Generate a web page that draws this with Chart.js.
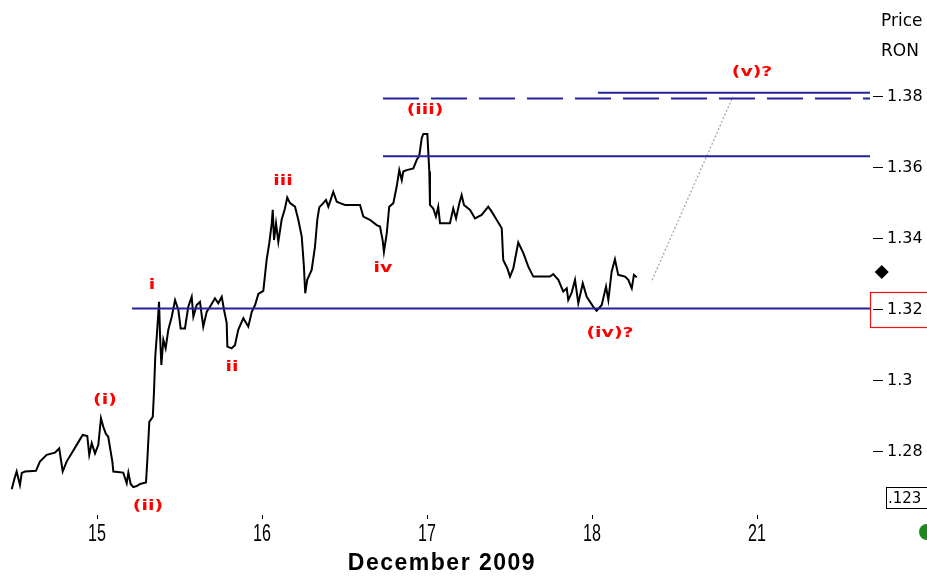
<!DOCTYPE html>
<html>
<head>
<meta charset="utf-8">
<script src="https://cdn.jsdelivr.net/npm/chart.js@4/dist/chart.umd.min.js"></script>
<style>
html,body{margin:0;padding:0;background:#fff;}
#wrap{position:relative;width:927px;height:578px;overflow:hidden;}
</style>
</head>
<body>
<div id="wrap"><canvas id="c" width="927" height="578"></canvas></div>
<script>
// ---- data ----
// time in trading-day units: 0 = Dec 15, 1 = Dec 16, 2 = Dec 17, 3 = Dec 18, 4 = Dec 21
const xTickValues = [0, 1, 2, 3, 4];
const xTickLabels = ['15', '16', '17', '18', '21'];
const xAxisTitle = 'December 2009';
const yTickValues = [1.28, 1.30, 1.32, 1.34, 1.36, 1.38];

const priceT = [-0.523,-0.503,-0.493,-0.473,-0.462,-0.442,-0.376,-0.352,-0.311,-0.261,-0.235,-0.214,-0.190,-0.129,-0.093,-0.065,-0.053,-0.038,-0.018,0.002,0.018,0.032,0.048,0.062,0.087,0.093,0.153,0.174,0.184,0.198,0.214,0.235,0.255,0.291,0.299,0.311,0.332,0.339,0.347,0.359,0.370,0.376,0.384,0.396,0.410,0.426,0.447,0.467,0.487,0.501,0.527,0.547,0.568,0.578,0.598,0.618,0.638,0.659,0.679,0.709,0.729,0.750,0.764,0.780,0.784,0.810,0.830,0.850,0.881,0.911,0.932,0.952,0.972,1.002,
1.022,1.038,1.053,1.059,1.067,1.079,1.093,1.113,1.133,1.147,1.164,1.194,1.214,1.235,1.248,1.256,1.268,1.295,1.315,1.329,1.341,1.365,1.382,1.396,1.410,1.426,1.447,1.467,1.497,1.588,1.608,1.648,1.689,1.709,1.725,1.733,1.750,1.765,1.790,1.810,1.826,1.841,1.850,1.871,1.911,1.932,1.947,1.962,1.972,1.996,
2.008,2.012,2.032,2.048,2.062,2.073,2.133,2.153,2.170,2.190,2.204,2.218,2.255,2.285,2.325,2.365,2.386,2.416,2.447,2.456,2.481,2.497,2.517,2.547,2.578,2.608,2.638,2.739,2.759,2.790,2.820,2.841,2.850,2.871,2.891,2.911,2.938,2.962,3.002,3.022,3.053,3.079,3.093,3.113,3.133,3.153,3.194,3.214,3.235,3.248,3.265];

const priceV = [1.2695,1.2730,1.2745,1.2707,1.2741,1.2745,1.2747,1.2773,1.2792,1.2798,1.2810,1.2745,1.2773,1.2820,1.2848,1.2845,1.2792,1.2825,1.2796,1.2820,1.2895,1.2871,1.2851,1.2843,1.2773,1.2745,1.2742,1.2712,1.2742,1.2710,1.2701,1.2704,1.2710,1.2714,1.2777,1.2885,1.2899,1.2965,1.3068,1.3144,1.3223,1.3130,1.3045,1.3116,1.3092,1.3144,1.3181,1.3228,1.3200,1.3148,1.3148,1.3209,1.3237,1.3181,1.3214,1.3223,1.3153,1.3195,1.3209,1.3233,1.3219,1.3237,1.3200,1.3163,1.3097,1.3092,1.3101,1.3144,1.3177,1.3153,1.3195,1.3214,1.3245,1.3254,
1.3341,1.3388,1.3444,1.3482,1.3397,1.3444,1.3392,1.3454,1.3486,1.3517,1.3501,1.3491,1.3454,1.3406,1.3322,1.3247,1.3285,1.3313,1.3378,1.3454,1.3489,1.3501,1.3510,1.3491,1.3510,1.3533,1.3505,1.3501,1.3496,1.3496,1.3463,1.3454,1.3439,1.3435,1.3397,1.3364,1.3416,1.3491,1.3501,1.3547,1.3594,1.3566,1.3590,1.3594,1.3599,1.3623,1.3634,1.3684,1.3696,1.3696,
1.3590,1.3496,1.3486,1.3463,1.3491,1.3444,1.3444,1.3486,1.3458,1.3501,1.3524,1.3496,1.3482,1.3458,1.3468,1.3491,1.3477,1.3454,1.3430,1.3341,1.3317,1.3294,1.3317,1.3390,1.3360,1.3322,1.3294,1.3294,1.3301,1.3285,1.3252,1.3261,1.3228,1.3249,1.3285,1.3219,1.3275,1.3237,1.3209,1.3198,1.3214,1.3266,1.3228,1.3308,1.3343,1.3299,1.3294,1.3285,1.3261,1.3299,1.3292];

// horizontal target / support levels
const solidLevels = [1.3204, 1.3633, 1.3812];
const solidStarts = [0.206, 1.727, 3.030];
const dashedLevel = 1.3796;
const dashedStart = 1.727;
const levelEnd = 4.679;

// projected path toward (v)?
const projT = [3.358, 3.848];
const projV = [1.3284, 1.3801];

// last price marker (sits in the axis margin)
const markerT = [4.75];
const markerV = [1.3307];

// wave labels
const waveText = ['(i)', '(ii)', 'i', 'ii', 'iii', 'iv', '(iii)', '(iv)?', '(v)?'];
const waveT = [0.042, 0.303, 0.327, 0.812, 1.121, 1.727, 1.982, 3.103, 3.964];
const waveV = [1.2946, 1.2648, 1.3268, 1.3037, 1.3561, 1.3318, 1.3761, 1.3135, 1.3870];

const boxValue = 1.2670;
const boxText = '.123';
const axisCaption = ['Price', 'RON'];

// ---- chart ----
const BLUE = '#22229c';
const zip = (a, b) => a.map((v, i) => ({x: v, y: b[i]}));

const datasets = [];
solidLevels.forEach((lv, i) => {
  datasets.push({data: [{x: solidStarts[i], y: lv}, {x: levelEnd, y: lv}], borderColor: BLUE, borderWidth: 2, pointRadius: 0});
});
datasets.push({data: [{x: dashedStart, y: dashedLevel}, {x: levelEnd, y: dashedLevel}], borderColor: BLUE, borderWidth: 2, borderDash: [36, 12], pointRadius: 0});
datasets.push({data: zip(projT, projV), borderColor: '#a0a0a0', borderWidth: 1.2, borderDash: [2, 2], pointRadius: 0});
datasets.push({data: zip(priceT, priceV), borderColor: '#000', borderWidth: 2, pointRadius: 0, borderJoinStyle: 'miter'});

const SANS = '"Liberation Sans", Arial, sans-serif';
const DEJA = '"DejaVu Sans", Verdana, sans-serif';

const overlay = {
  id: 'overlay',
  afterDraw(chart) {
    const {ctx, scales: {x, y}} = chart;
    ctx.save();
    // wave labels (wide bold lettering)
    ctx.font = 'bold 14px ' + DEJA;
    ctx.fillStyle = '#ff0000';
    ctx.textAlign = 'center';
    ctx.textBaseline = 'middle';
    waveText.forEach((t, i) => {
      ctx.save();
      ctx.translate(x.getPixelForValue(waveT[i]), y.getPixelForValue(waveV[i]));
      ctx.scale(1.35, 1);
      ctx.fillText(t, 0, 0);
      ctx.restore();
    });

    // last price diamond in the axis margin
    ctx.fillStyle = '#000';
    markerT.forEach((t, i) => {
      const mx = x.getPixelForValue(t), my = y.getPixelForValue(markerV[i]);
      ctx.beginPath();
      ctx.moveTo(mx, my - 7);
      ctx.lineTo(mx + 7, my);
      ctx.lineTo(mx, my + 7);
      ctx.lineTo(mx - 7, my);
      ctx.closePath();
      ctx.fill();
    });

    // x tick labels (tall, narrow lettering)
    ctx.font = '23px ' + SANS;
    x.ticks.forEach((tk) => {
      const px = x.getPixelForValue(tk.value);
      ctx.save();
      ctx.translate(px - 1, 535);
      ctx.scale(0.7, 1);
      ctx.fillText(xTickLabels[xTickValues.indexOf(tk.value)], 0, 0);
      ctx.restore();
    });
    // x axis title
    ctx.font = 'bold 23px ' + SANS;
    ctx.letterSpacing = '1.5px';
    ctx.fillText(xAxisTitle, 442, 564);
    ctx.letterSpacing = '0px';

    // axis caption on the right
    ctx.textAlign = 'left';
    ctx.font = '17px ' + DEJA;
    ctx.fillText(axisCaption[0], 881, 22);
    ctx.fillText(axisCaption[1], 881, 52);
    // red box around current level tick
    const y32 = Math.round(y.getPixelForValue(1.32));
    ctx.strokeStyle = '#ee1111';
    ctx.lineWidth = 1.2;
    ctx.strokeRect(870.5, y32 - 17.5, 70, 35);
    // value box
    const yb = Math.round(y.getPixelForValue(boxValue));
    ctx.strokeStyle = '#000';
    ctx.lineWidth = 1;
    ctx.strokeRect(886.5, yb - 10.5, 60, 21);
    ctx.font = '15px ' + DEJA;
    ctx.fillText(boxText, 888, yb + 1);
    // green dot
    ctx.fillStyle = '#1a8a1a';
    ctx.beginPath();
    ctx.arc(927, 532, 8, 0, Math.PI * 2);
    ctx.fill();
    ctx.restore();
  }
};

new Chart(document.getElementById('c'), {
  type: 'line',
  data: {datasets},
  options: {
    responsive: false,
    animation: false,
    layout: {padding: 0, autoPadding: false},
    plugins: {legend: {display: false}, tooltip: {enabled: false}},
    elements: {line: {tension: 0, fill: false}},
    scales: {
      x: {
        type: 'linear',
        min: -0.5939,
        max: 4.697,
        afterFit(s) { s.height = 63; s.paddingLeft = 0; s.paddingRight = 0; },
        afterBuildTicks(s) { s.ticks = xTickValues.map(v => ({value: v})); },
        grid: {display: true, drawOnChartArea: false, tickLength: 4, color: '#000', lineWidth: 1},
        border: {display: false},
        ticks: {display: false}
      },
      y: {
        type: 'linear',
        position: 'right',
        min: 1.26225,
        max: 1.40732,
        afterFit(s) { s.width = 54; s.paddingTop = 0; s.paddingBottom = 0; },
        afterBuildTicks(s) { s.ticks = yTickValues.map(v => ({value: v})); },
        grid: {display: true, drawOnChartArea: false, tickLength: 10, color: '#000', lineWidth: 1},
        border: {display: false},
        ticks: {
          color: '#000',
          padding: 4,
          font: {family: DEJA, size: 16},
          callback: (v) => String(Math.round(v * 100) / 100)
        }
      }
    }
  },
  plugins: [overlay]
});
</script>
</body>
</html>
